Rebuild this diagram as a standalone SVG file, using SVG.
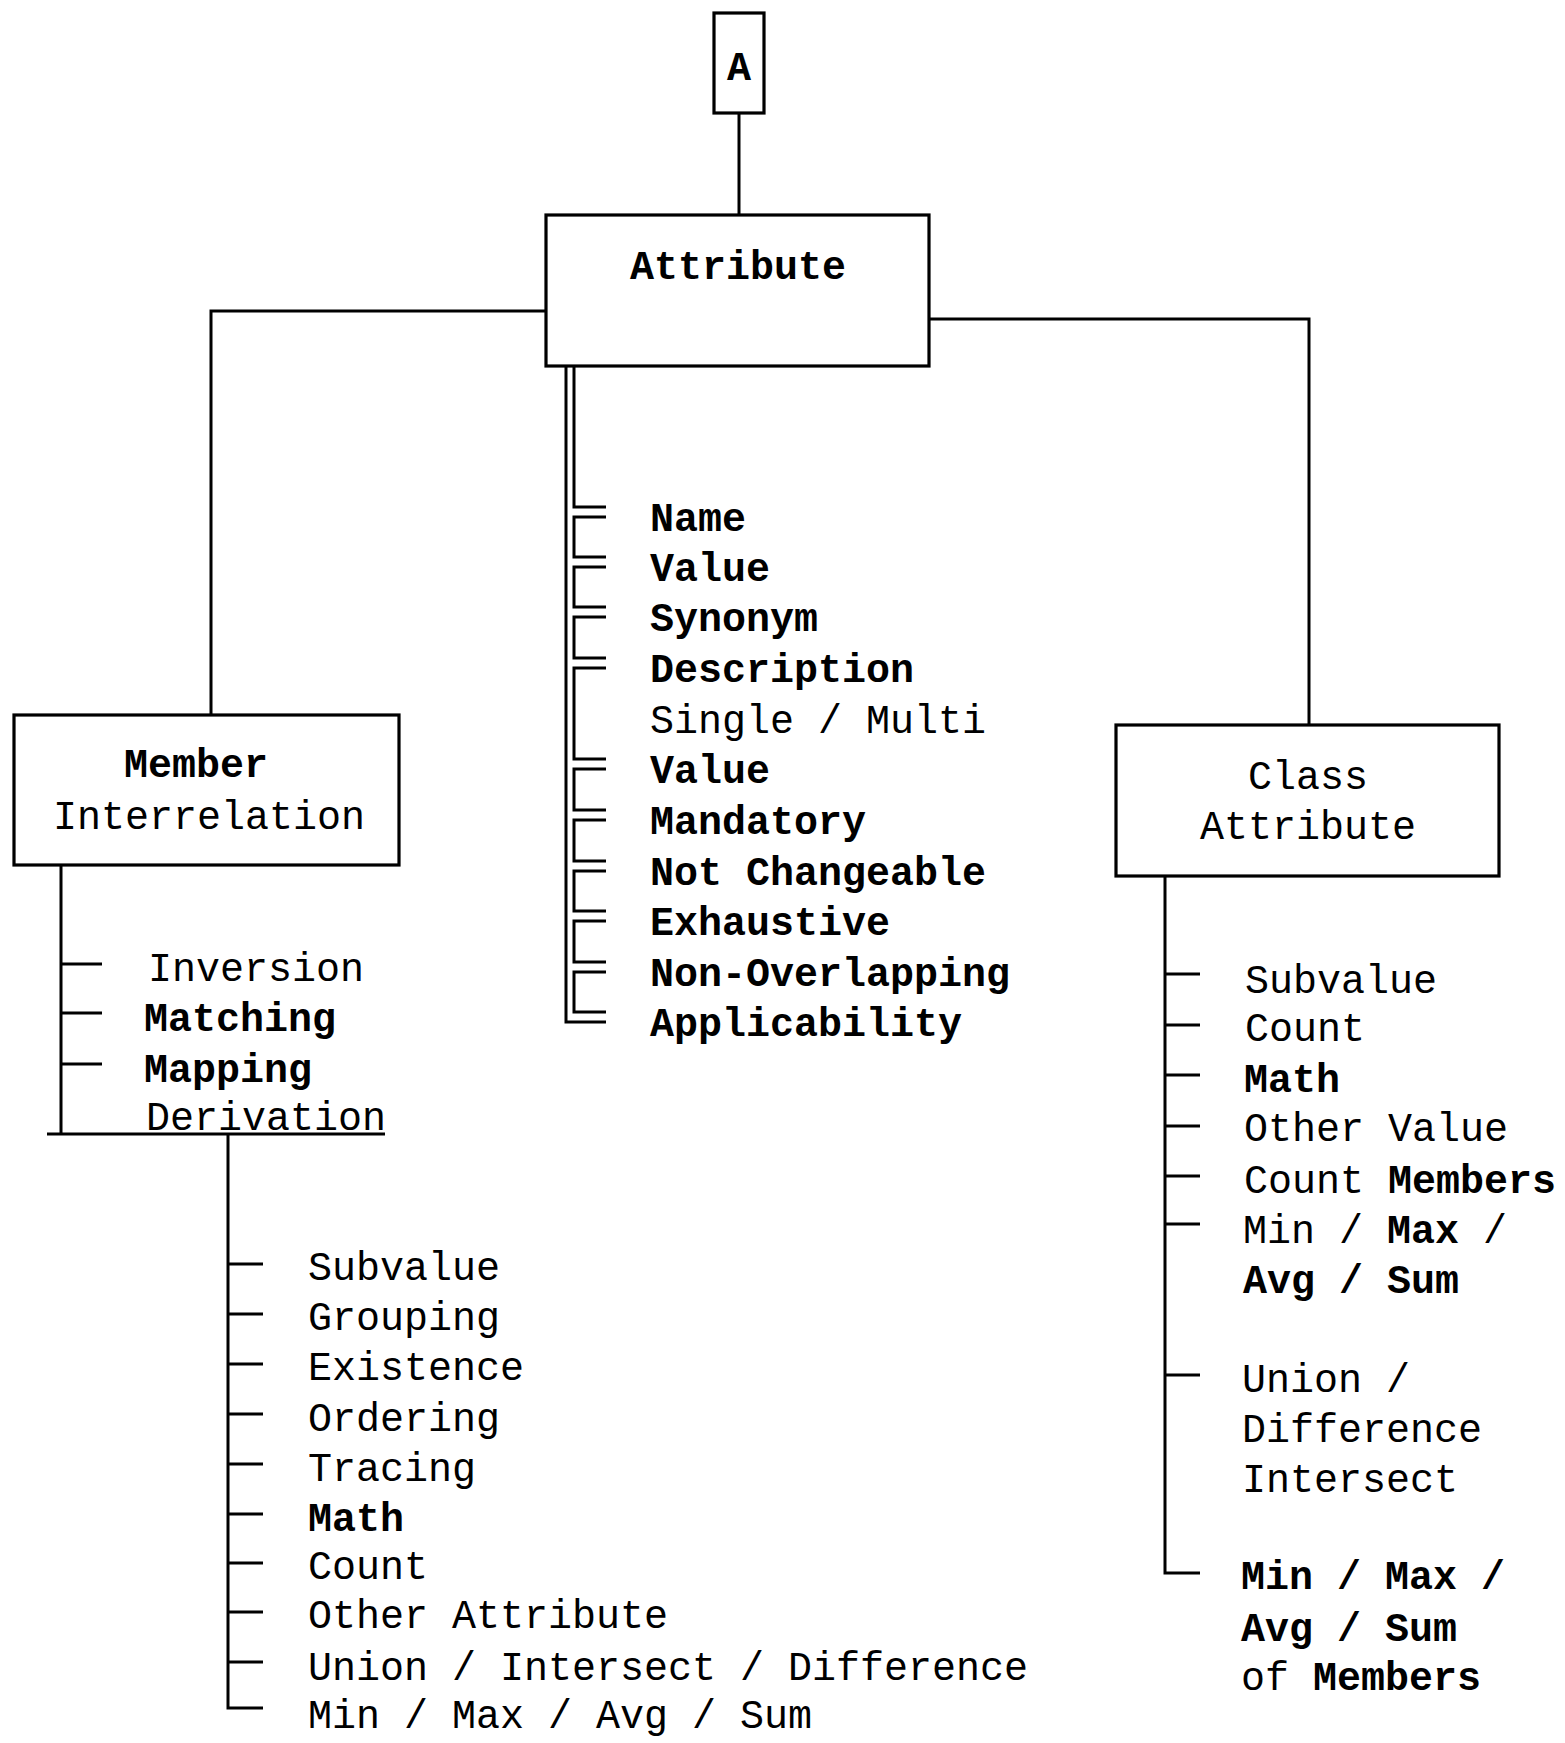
<svg xmlns="http://www.w3.org/2000/svg" width="1565" height="1743" viewBox="0 0 1565 1743">
<style>
.box{fill:#fff;stroke:#000;stroke-width:3.2}
.ln{fill:none;stroke:#000;stroke-width:3}
.t{font-family:"Liberation Mono","DejaVu Sans Mono",monospace;font-size:40px;fill:#000}
.b{font-weight:bold}
.m{text-anchor:middle}
</style>
<rect width="1565" height="1743" fill="#fff"/>
<g id="connectors">
  <path class="ln" d="M739 113 V215"/>
  <path class="ln" d="M546 311 H211 V715"/>
  <path class="ln" d="M929 319 H1309 V725"/>
  <!-- center double bracket -->
  <path class="ln" d="M566 366 V1022 H606"/>
  <path class="ln" d="M574 366 V507 H606"/>
  <path class="ln" d="M606 517 H574 V557 H606"/>
  <path class="ln" d="M606 567 H574 V607 H606"/>
  <path class="ln" d="M606 617 H574 V658 H606"/>
  <path class="ln" d="M606 668 H574 V759 H606"/>
  <path class="ln" d="M606 769 H574 V810 H606"/>
  <path class="ln" d="M606 820 H574 V861 H606"/>
  <path class="ln" d="M606 871 H574 V911 H606"/>
  <path class="ln" d="M606 921 H574 V962 H606"/>
  <path class="ln" d="M606 972 H574 V1012 H606"/>
  <!-- member interrelation -->
  <path class="ln" d="M61 865 V1134"/>
  <path class="ln" d="M61 964 H102 M61 1013 H102 M61 1064 H102"/>
  <path class="ln" d="M47 1134 H385"/>
  <!-- derivation -->
  <path class="ln" d="M228 1134 V1708 H263"/>
  <path class="ln" d="M228 1264 H263 M228 1314 H263 M228 1364 H263 M228 1414 H263 M228 1464 H263 M228 1514 H263 M228 1563 H263 M228 1612 H263 M228 1662 H263"/>
  <!-- class attribute -->
  <path class="ln" d="M1165 876 V1573 H1200"/>
  <path class="ln" d="M1165 974 H1200 M1165 1025 H1200 M1165 1075 H1200 M1165 1126 H1200 M1165 1176 H1200 M1165 1224 H1200 M1165 1375 H1200"/>
</g>
<g id="node-A">
  <rect class="box" x="714" y="13" width="50" height="100"/>
  <text class="t b m" x="739" y="80">A</text>
</g>
<g id="node-attribute">
  <rect class="box" x="546" y="215" width="383" height="151"/>
  <text class="t b m" x="738" y="279">Attribute</text>
</g>
<g id="node-member">
  <rect class="box" x="14" y="715" width="385" height="150"/>
  <text class="t b" x="124" y="777">Member</text>
  <text class="t" x="53" y="829">Interrelation</text>
</g>
<g id="node-class">
  <rect class="box" x="1116" y="725" width="383" height="151"/>
  <text class="t" x="1248" y="789">Class</text>
  <text class="t" x="1200" y="839">Attribute</text>
</g>
<g id="list-attribute">
  <text class="t b" x="650" y="531">Name</text>
  <text class="t b" x="650" y="581">Value</text>
  <text class="t b" x="650" y="631">Synonym</text>
  <text class="t b" x="650" y="682">Description</text>
  <text class="t" x="650" y="733">Single / Multi</text>
  <text class="t b" x="650" y="783">Value</text>
  <text class="t b" x="650" y="834">Mandatory</text>
  <text class="t b" x="650" y="885">Not Changeable</text>
  <text class="t b" x="650" y="935">Exhaustive</text>
  <text class="t b" x="650" y="986">Non-Overlapping</text>
  <text class="t b" x="650" y="1036">Applicability</text>
</g>
<g id="list-member">
  <text class="t" x="148" y="981">Inversion</text>
  <text class="t b" x="144" y="1031">Matching</text>
  <text class="t b" x="144" y="1082">Mapping</text>
  <text class="t" x="146" y="1130">Derivation</text>
</g>
<g id="list-derivation">
  <text class="t" x="308" y="1280">Subvalue</text>
  <text class="t" x="308" y="1330">Grouping</text>
  <text class="t" x="308" y="1380">Existence</text>
  <text class="t" x="308" y="1431">Ordering</text>
  <text class="t" x="308" y="1481">Tracing</text>
  <text class="t b" x="308" y="1531">Math</text>
  <text class="t" x="308" y="1579">Count</text>
  <text class="t" x="308" y="1628">Other Attribute</text>
  <text class="t" x="308" y="1680">Union / Intersect / Difference</text>
  <text class="t" x="308" y="1728">Min / Max / Avg / Sum</text>
</g>
<g id="list-class">
  <text class="t" x="1245" y="993">Subvalue</text>
  <text class="t" x="1245" y="1041">Count</text>
  <text class="t b" x="1244" y="1092">Math</text>
  <text class="t" x="1244" y="1141">Other Value</text>
  <text class="t" x="1244" y="1193">Count <tspan class="b">Members</tspan></text>
  <text class="t" x="1243" y="1243">Min / <tspan class="b">Max</tspan> /</text>
  <text class="t b" x="1243" y="1293">Avg / Sum</text>
  <text class="t" x="1242" y="1392">Union /</text>
  <text class="t" x="1242" y="1442">Difference</text>
  <text class="t" x="1242" y="1492">Intersect</text>
  <text class="t b" x="1241" y="1589">Min / Max /</text>
  <text class="t b" x="1241" y="1641">Avg / Sum</text>
  <text class="t" x="1241" y="1690">of <tspan class="b">Members</tspan></text>
</g>
</svg>
